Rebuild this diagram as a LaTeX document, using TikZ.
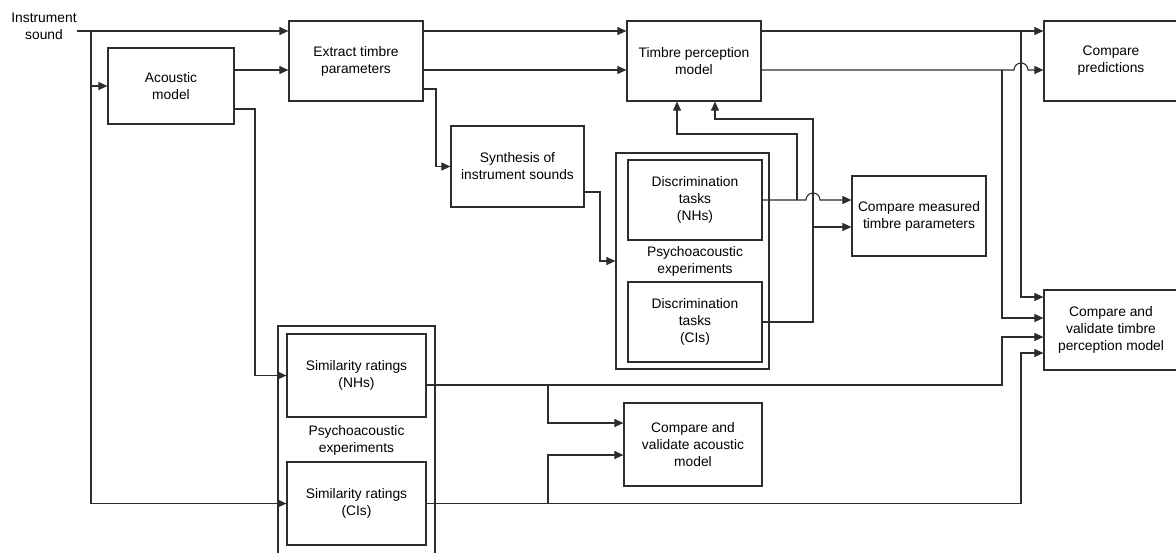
\documentclass[tikz,border=0pt]{standalone}
\usepackage{fontspec}
\setmainfont{Liberation Sans}
\usetikzlibrary{arrows.meta,positioning}
\definecolor{linegray}{RGB}{45,45,45}

\begin{document}
\begin{tikzpicture}[x=1pt,y=-1pt,
    box/.style={draw=linegray,line width=1.2pt,minimum width=134pt,minimum height=80pt,
        align=center,inner sep=2pt,font=\fontsize{13.8}{17}\selectfont},
    frame/.style={draw=linegray,line width=1.2pt},
    lbl/.style={align=center,inner sep=0pt,font=\fontsize{13.8}{17}\selectfont},
    arr/.style={draw=linegray,line width=1.1pt,-{Triangle[length=9pt,width=8pt]}}]
\useasboundingbox (0,0) rectangle (1176,552);

% Blocks
\node[lbl] (snd) at (44,26) {Instrument\\sound};
\node[box,minimum width=126pt,minimum height=76pt] (acm) at (171,86) {Acoustic\\model};
\node[box] (ext) at (356,61) {Extract timbre\\parameters};
\node[box] (tpm) at (694,61) {Timbre perception\\model};
\node[box] (cpr) at (1111,61) {Compare\\predictions};
\node[box,minimum width=133pt,minimum height=81pt] (syn) at (517.5,166.5) {Synthesis of\\instrument sounds};
\node[box] (cmt) at (919,216) {Compare measured\\timbre parameters};
\node[box] (cvt) at (1111,330) {Compare and\\validate timbre\\perception model};
\node[box,minimum width=138pt,minimum height=83pt] (cva) at (693,444.5) {Compare and\\validate acoustic\\model};

% Discrimination experiments
\node[frame,minimum width=153pt,minimum height=216pt] (dout) at (692.5,261) {};
\node[box] (dnh) at (695,200) {Discrimination\\tasks\\(NHs)};
\node[box] (dci) at (695,322) {Discrimination\\tasks\\(CIs)};
\node[lbl] (dlab) at (695,261) {Psychoacoustic\\experiments};

% Similarity experiments
\node[frame,minimum width=157pt,minimum height=244pt] (sout) at (356.5,448) {};
\node[box,minimum width=139pt,minimum height=83pt] (snh) at (356.5,375.5) {Similarity ratings\\(NHs)};
\node[box,minimum width=139pt,minimum height=83pt] (sci) at (356.5,503.5) {Similarity ratings\\(CIs)};
\node[lbl] (slab) at (356.5,440) {Psychoacoustic\\experiments};

% Input sound
\coordinate (jin) at (91,31);
\draw[arr] (snd.east |- 0,31) -- (ext.west |- 0,31);
\draw[arr] (jin) |- (sci.west);
\draw[arr] (jin |- acm.west) -- (acm.west);

% Acoustic model outputs
\draw[arr] (acm.east |- 0,70) -- (ext.west |- 0,70);
\draw[arr] (acm.east |- 0,109) -- (255,109) |- (snh.west);

% Extracted parameters
\draw[arr] (ext.east |- 0,31) -- (tpm.west |- 0,31);
\draw[arr] (ext.east |- 0,70) -- (tpm.west |- 0,70);
\draw[arr] (ext.east |- 0,89) -- (436,89) |- (syn.west);
\draw[arr] (syn.east |- 0,192) -- (600,192) |- (dout.west);

% Model predictions
\draw[arr] (tpm.east |- 0,31) -- (cpr.west |- 0,31);
\draw[arr] (1021,31) |- (cvt.west |- 0,297);
\draw[arr] (tpm.east |- 0,70) -- (1014,70) arc[start angle=180,end angle=0,radius=7pt] -- (cpr.west |- 0,70);
\draw[arr] (1002,70) |- (cvt.west |- 0,318);

% Discrimination results
\draw[arr] (dnh.east) -- (806,200) arc[start angle=180,end angle=0,radius=7pt] -- (cmt.west |- 0,200);
\draw[arr] (797,200) |- (677,134) -- (tpm.south -| 677,0);
\draw[arr] (dci.east) -- (813,322) |- (715,119) -- (tpm.south -| 715,0);
\draw[arr] (813,227) -- (cmt.west |- 0,227);

% Similarity results
\draw[arr] (snh.east |- 0,385) -- (1002,385) |- (cvt.west |- 0,337);
\draw[arr] (548,385) |- (cva.west |- 0,423);
\draw[arr] (sci.east) -| (1021,353) -- (cvt.west |- 0,353);
\draw[arr] (548,503.5) |- (cva.west |- 0,455);

\end{tikzpicture}
\end{document}
